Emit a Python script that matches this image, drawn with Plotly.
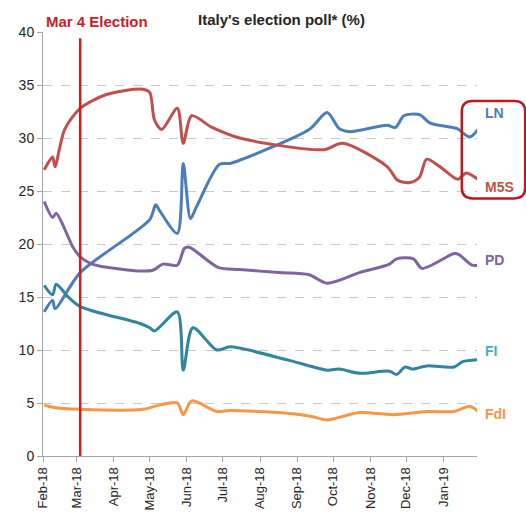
import plotly.graph_objects as go

m5s_dates = ["2018-02-02","2018-02-09","2018-02-11","2018-02-19","2018-03-04","2018-03-26","2018-04-25","2018-05-01","2018-05-05","2018-05-11","2018-05-24","2018-05-29","2018-06-05","2018-06-22","2018-07-15","2018-09-23","2018-10-09","2018-11-15","2018-11-24","2018-12-04","2018-12-12","2018-12-18","2018-12-29","2019-01-13","2019-01-20","2019-01-31"]
m5s_vals = [27.0,28.2,27.3,30.8,32.8,34.1,34.6,34.3,31.7,30.8,32.8,29.5,32.1,31.0,30.0,28.9,29.5,27.3,26.0,25.8,26.3,28.0,27.3,26.1,26.7,26.0]

ln_dates = ["2018-02-02","2018-02-09","2018-02-11","2018-03-04","2018-05-01","2018-05-06","2018-05-09","2018-05-24","2018-05-29","2018-06-04","2018-06-09","2018-06-28","2018-07-07","2018-07-15","2018-09-11","2018-09-26","2018-10-06","2018-10-15","2018-11-15","2018-11-22","2018-11-29","2018-12-12","2018-12-21","2019-01-12","2019-01-23","2019-01-31"]
ln_vals = [13.6,14.7,13.9,17.3,22.3,23.7,23.2,21.0,27.6,22.4,23.5,27.5,27.6,27.9,30.8,32.4,30.9,30.6,31.2,31.0,32.1,32.2,31.4,30.9,30.1,31.0]

pd_dates = ["2018-02-02","2018-02-09","2018-02-12","2018-02-26","2018-03-04","2018-03-12","2018-03-26","2018-05-03","2018-05-12","2018-05-24","2018-05-30","2018-06-03","2018-06-27","2018-07-15","2018-08-17","2018-09-11","2018-09-26","2018-10-23","2018-11-17","2018-11-23","2018-12-07","2018-12-14","2019-01-10","2019-01-14","2019-01-25","2019-01-31"]
pd_vals = [24.0,22.5,22.9,19.7,18.8,18.2,17.8,17.5,18.1,18.0,19.6,19.7,17.8,17.6,17.3,17.1,16.3,17.3,18.1,18.6,18.6,17.7,19.1,19.0,18.0,18.0]

fi_dates = ["2018-02-02","2018-02-09","2018-02-12","2018-02-22","2018-03-04","2018-04-23","2018-05-01","2018-05-05","2018-05-24","2018-05-29","2018-06-06","2018-06-26","2018-07-07","2018-08-26","2018-09-26","2018-10-06","2018-10-23","2018-11-17","2018-11-23","2018-11-30","2018-12-06","2018-12-18","2019-01-10","2019-01-17","2019-01-31"]
fi_vals = [16.1,15.2,16.2,15.0,14.1,12.5,12.1,11.8,13.6,8.1,12.1,10.0,10.3,9.0,8.1,8.2,7.8,8.0,7.7,8.4,8.2,8.5,8.4,8.9,9.1]

fdi_dates = ["2018-02-02","2018-02-09","2018-03-04","2018-04-25","2018-05-09","2018-05-24","2018-05-29","2018-06-05","2018-06-26","2018-07-07","2018-08-26","2018-09-14","2018-09-26","2018-10-23","2018-11-20","2018-12-18","2019-01-10","2019-01-23","2019-01-31"]
fdi_vals = [4.8,4.6,4.4,4.4,4.8,5.0,3.9,5.2,4.2,4.3,4.0,3.7,3.4,4.1,3.9,4.2,4.2,4.7,4.1]

tick_dates = ["2018-02-01","2018-03-01","2018-04-01","2018-05-01","2018-06-01","2018-07-01","2018-08-01","2018-09-01","2018-10-01","2018-11-01","2018-12-01","2019-01-01"]
tick_labels = ["Feb-18","Mar-18","Apr-18","May-18","Jun-18","Jul-18","Aug-18","Sep-18","Oct-18","Nov-18","Dec-18","Jan-19"]
y_ticks = [0,5,10,15,20,25,30,35,40]

election_date = "2018-03-04"

series = [
    ("LN", ln_dates, ln_vals, "#4A7EBB", "#4A7EBB", 32.4),
    ("M5S", m5s_dates, m5s_vals, "#C0504D", "#C0504D", 25.4),
    ("PD", pd_dates, pd_vals, "#8064A2", "#8064A2", 18.5),
    ("FI", fi_dates, fi_vals, "#31859C", "#4BACC6", 9.9),
    ("FdI", fdi_dates, fdi_vals, "#F79646", "#F79646", 4.0),
]

fig = go.Figure()
for name, d, v, c, lc, ly in series:
    fig.add_trace(go.Scatter(x=d, y=v, mode="lines", name=name, cliponaxis=False,
                             line=dict(color=c, width=3, shape="spline", smoothing=0.8),
                             showlegend=False, hoverinfo="skip"))

fig.add_trace(go.Scatter(x=[election_date, election_date], y=[0, 39.4], mode="lines",
                         line=dict(color="#CC1F1F", width=2.5), showlegend=False, hoverinfo="skip"))

for name, d, v, c, lc, ly in series:
    fig.add_annotation(x=1.0, xref="paper", y=ly, yref="y", text="<b>%s</b>" % name,
                       showarrow=False, xanchor="left", xshift=6,
                       font=dict(family="Liberation Sans, Arial", size=14, color=lc))

# rounded highlight box
x0, x1 = 0.965, 1.111
y0, y1 = 24.3, 33.5
rx, ry = 0.025, 1.0
path = (f"M {x0+rx},{y1} L {x1-rx},{y1} Q {x1},{y1} {x1},{y1-ry} L {x1},{y0+ry} Q {x1},{y0} {x1-rx},{y0} "
        f"L {x0+rx},{y0} Q {x0},{y0} {x0},{y0+ry} L {x0},{y1-ry} Q {x0},{y1} {x0+rx},{y1} Z")
fig.add_shape(type="path", path=path, xref="paper", yref="y",
              line=dict(color="#C0161E", width=2.5), fillcolor="rgba(0,0,0,0)")

fig.add_annotation(x=0.0, xref="paper", y=1.0, yref="paper", text="<b>Mar 4 Election</b>",
                   showarrow=False, xanchor="left", yanchor="bottom", xshift=1, yshift=0,
                   font=dict(family="Liberation Sans, Arial", size=15, color="#C8202A"))
fig.add_annotation(x=0.55, xref="paper", y=1.0, yref="paper", text="<b>Italy's election poll* (%)</b>",
                   showarrow=False, xanchor="center", yanchor="bottom", yshift=2,
                   font=dict(family="Liberation Sans, Arial", size=15, color="#262626"))

fig.update_layout(
    width=526, height=515,
    margin=dict(l=43, r=49, t=32, b=59, autoexpand=False),
    plot_bgcolor="white", paper_bgcolor="white",
    font=dict(family="Liberation Sans, Arial", size=13, color="#262626"),
)
fig.update_xaxes(type="date", range=["2018-02-01", "2019-01-29"], automargin=False,
                 tickvals=tick_dates, ticktext=tick_labels, tickangle=-90,
                 showgrid=False, showline=True, linecolor="#A6A6A6", linewidth=1,
                 ticks="outside", ticklen=5, tickcolor="#A6A6A6",
                 tickfont=dict(size=13, color="#262626"), zeroline=False)
fig.update_yaxes(range=[0, 40], tickvals=y_ticks, showgrid=True, gridcolor="#C8C8C8",
                 griddash="dash", gridwidth=1, showline=True, linecolor="#A6A6A6", linewidth=1,
                 ticks="outside", ticklen=5, tickcolor="#A6A6A6", zeroline=False, automargin=False,
                 tickfont=dict(size=14, color="#262626"))

fig.write_html("out.html")
